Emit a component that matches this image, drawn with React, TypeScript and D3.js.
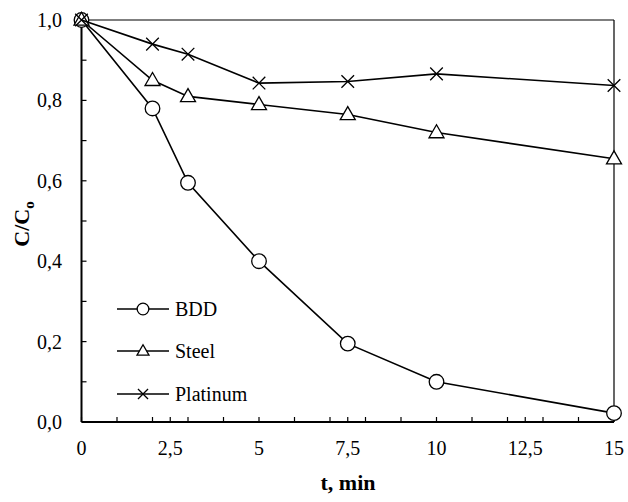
import React from "react";
import * as d3 from "d3";

// время, мин
const times = [0, 2, 3, 5, 7.5, 10, 15];
const bdd = [1, 0.78, 0.595, 0.4, 0.195, 0.1, 0.022];
const steel = [1, 0.85, 0.81, 0.79, 0.765, 0.72, 0.655];
const platinum = [1, 0.94, 0.915, 0.843, 0.847, 0.866, 0.837];

const seriesNames = ["BDD", "Steel", "Platinum"];
const xMajorTicks = [0, 2.5, 5, 7.5, 10, 12.5, 15];
const xMinorTicks = [1, 2, 3, 4, 6, 7, 8, 9, 11, 12, 13, 14];
const yMajorTicks = [0, 0.2, 0.4, 0.6, 0.8, 1.0];
const yMinorTicks = [0.1, 0.3, 0.5, 0.7, 0.9];

const W = 628;
const H = 502;
const margin = { left: 81.5, right: 14, top: 20, bottom: 80 };
const font = "'Liberation Serif', 'Times New Roman', serif";

const comma = (s: string) => s.replace(".", ",");

const Marker = ({ kind, x, y, s = 1 }: { kind: string; x: number; y: number; s?: number }) => {
    if (kind === "BDD") {
        return <circle cx={x} cy={y} r={7.3 * s} fill="white" stroke="black" strokeWidth={1.3} />;
    }
    if (kind === "Steel") {
        const h = 13 * s;
        const w = 15 * s;
        const pts = [
            [x, y - h * 0.6],
            [x - w / 2, y + h * 0.4],
            [x + w / 2, y + h * 0.4],
        ];
        return <polygon points={pts.map(p => p.join(",")).join(" ")} fill="white" stroke="black" strokeWidth={1.3} />;
    }
    const d = 6.3 * s;
    return (
        <path
            d={`M${x - d},${y - d}L${x + d},${y + d}M${x - d},${y + d}L${x + d},${y - d}`}
            stroke="black"
            strokeWidth={1.3}
            fill="none"
        />
    );
};

export default function App() {
    const x = d3.scaleLinear().domain([0, 15]).range([margin.left, W - margin.right]);
    const y = d3.scaleLinear().domain([0, 1]).range([H - margin.bottom, margin.top]);

    const line = d3
        .line<number>()
        .x((_, i) => x(times[i]))
        .y(d => y(d));

    const allSeries = [bdd, steel, platinum];
    const x0 = x(0);
    const x1 = x(15);
    const y0 = y(0);
    const y1 = y(1);

    const legendY = [309, 351, 394];

    return (
        <svg
            width={W}
            height={H}
            style={{ position: "absolute", left: 0, top: 0, background: "white", fontFamily: font }}
        >
            {/* рамка */}
            <line x1={x0} x2={x1} y1={y1} y2={y1} stroke="black" strokeWidth={1.2} />
            <line x1={x1} x2={x1} y1={y1} y2={y0} stroke="black" strokeWidth={1.2} />

            {/* деления по X */}
            {xMajorTicks.concat(xMinorTicks).map(t => (
                <line key={"xt" + t} x1={x(t)} x2={x(t)} y1={y0} y2={y0 - 5} stroke="black" strokeWidth={1.2} />
            ))}
            {xMajorTicks.map(t => (
                <text key={"xl" + t} x={x(t)} y={455} fontSize={20} fontFamily={font} textAnchor="middle">
                    {comma(String(t))}
                </text>
            ))}

            {/* деления по Y */}
            {yMajorTicks.concat(yMinorTicks).map(v => (
                <line key={"yt" + v} x1={x0} x2={x0 + 5} y1={y(v)} y2={y(v)} stroke="black" strokeWidth={1.2} />
            ))}
            {yMajorTicks.map(v => (
                <text key={"yl" + v} x={62} y={y(v) + 7} fontSize={20} fontFamily={font} textAnchor="end">
                    {comma(d3.format(".1f")(v))}
                </text>
            ))}

            {/* оси */}
            <line x1={x0} x2={x0} y1={y1} y2={y0} stroke="black" strokeWidth={2} />
            <line x1={x0} x2={x1} y1={y0} y2={y0} stroke="black" strokeWidth={2} />

            {/* подписи осей */}
            <text x={348} y={490} fontSize={22} fontFamily={font} fontWeight="bold" textAnchor="middle">
                t, min
            </text>
            <text
                transform="translate(29, 224) rotate(-90)"
                fontSize={22}
                fontFamily={font}
                fontWeight="bold"
                textAnchor="middle"
            >
                C/C
                <tspan fontSize={15} dy={5}>o</tspan>
            </text>

            {/* серии */}
            {allSeries.map((s, k) => (
                <g key={seriesNames[k]}>
                    <path d={line(s) || ""} fill="none" stroke="black" strokeWidth={1.6} />
                    {s.map((v, i) => (
                        <Marker key={i} kind={seriesNames[k]} x={x(times[i])} y={y(v)} />
                    ))}
                </g>
            ))}

            {/* легенда */}
            {seriesNames.map((n, k) => (
                <g key={"lg" + n}>
                    <line x1={117} x2={169} y1={legendY[k]} y2={legendY[k]} stroke="black" strokeWidth={1.6} />
                    <Marker kind={n} x={143} y={legendY[k]} s={0.8} />
                    <text x={175} y={legendY[k] + 7} fontSize={20} fontFamily={font}>
                        {n}
                    </text>
                </g>
            ))}
        </svg>
    );
}
